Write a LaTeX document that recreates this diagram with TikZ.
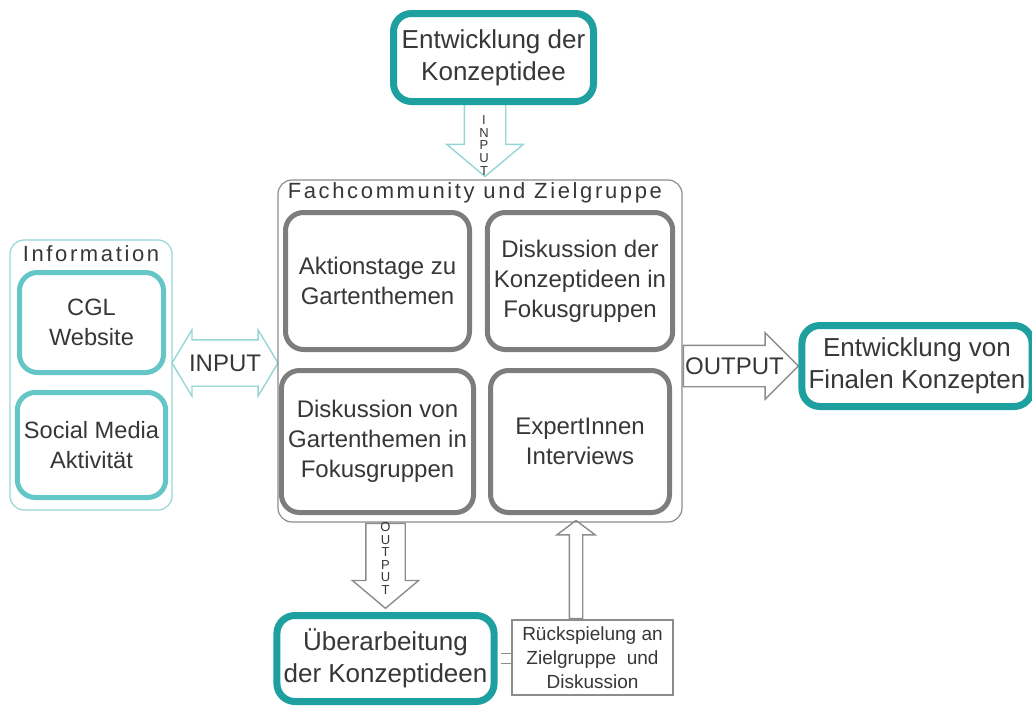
\documentclass[tikz,border=0pt]{standalone}
\usepackage{fontspec}
\setmainfont{Liberation Sans}
\usetikzlibrary{shapes.arrows,calc,backgrounds}

\definecolor{tealdark}{RGB}{30,160,160}
\definecolor{teallight}{RGB}{100,198,198}
\definecolor{tealpale}{RGB}{150,214,214}
\definecolor{boxgray}{RGB}{125,125,125}
\definecolor{linegray}{RGB}{140,140,140}
\definecolor{txtgray}{RGB}{55,55,55}

\tikzset{
  phase/.style={draw=tealdark, line width=3.5pt, rounded corners=9pt, fill=white,
    align=center, text=txtgray, font=\fontsize{13}{16}\selectfont},
  channel/.style={draw=teallight, line width=2.5pt, rounded corners=9pt, fill=white,
    align=center, text=txtgray, font=\fontsize{11.8}{15}\selectfont, minimum width=72pt},
  activity/.style={draw=boxgray, line width=2.5pt, rounded corners=9pt, fill=white,
    align=center, text=txtgray, font=\fontsize{12}{15}\selectfont},
  group/.style={rounded corners=7pt, line width=0.6pt},
  grouptitle/.style={font=\fontsize{11}{13}\selectfont\addfontfeature{LetterSpace=12},
    text=txtgray, inner sep=0pt},
  blockarrow/.style={single arrow, fill=white, line width=0.7pt},
  vlabel/.style={font=\fontsize{6.5}{6.3}\selectfont, align=center, inner sep=0pt, text=txtgray},
  hlabel/.style={font=\fontsize{12}{14}\selectfont, inner sep=0pt, text=txtgray},
}

\begin{document}
\begin{tikzpicture}[x=0.5pt, y=-0.5pt]
  \useasboundingbox (0,0) rectangle (1032,712);

  % groups
  \node[group, draw=linegray, minimum width=202pt, minimum height=171pt] (community) at (480,351) {};
  \node[grouptitle, anchor=west] (communityTitle) at ($(community.north west)+(10,13)$) {Fachcommunity und Zielgruppe};
  \node[group, draw=tealpale, minimum width=81pt, minimum height=135pt] (info) at (91,375) {};
  \node[grouptitle] (infoTitle) at ($(info.north)+(0,14)$) {Information};

  % phases
  \node[phase, minimum width=100pt, minimum height=44pt] (ideaTop) at (493.5,57.5) {Entwicklung der\\Konzeptidee};
  \node[phase, minimum width=107.5pt, minimum height=40.5pt] (final) at (917,366) {Entwicklung von\\Finalen Konzepten};
  \node[phase, minimum width=101pt, minimum height=43pt] (rework) at (385.5,658.5) {Überarbeitung\\der Konzeptideen};

  % information channels
  \node[channel, minimum height=50pt] (cgl) at (91.5,322.5) {CGL\\Website};
  \node[channel, minimum height=52.5pt] (social) at (91.5,445) {Social Media\\Aktivität};

  % activities
  \node[activity, minimum width=92pt, minimum height=68.5pt] (aktion) at (377.5,281) {Aktionstage zu\\Gartenthemen};
  \node[activity, minimum width=89.5pt, minimum height=68.5pt] (fokusKonzept) at (580,281) {Diskussion der\\Konzeptideen in\\Fokusgruppen};
  \node[activity, minimum width=92pt, minimum height=71pt] (fokusGarten) at (377.5,441.5) {Diskussion von\\Gartenthemen in\\Fokusgruppen};
  \node[activity, minimum width=89.5pt, minimum height=71pt] (experten) at (580,441.5) {ExpertInnen\\Interviews};

  \node[draw=linegray, line width=0.7pt, fill=white, minimum width=80.5pt, minimum height=37.5pt,
    align=center, text=txtgray, font=\fontsize{9.5}{12}\selectfont] (feedback) at (592.5,657.5)
    {Rückspielung an\\Zielgruppe\ \ und\\Diskussion};

  % arrows
  \begin{pgfonlayer}{background}
    \node[blockarrow, draw=tealpale, anchor=tip, shape border rotate=270, minimum height=37pt,
      inner sep=10pt, single arrow head extend=8.75pt, single arrow tip angle=100] (inTop)
      at ($(community.north)+(5,-2)$) {};
    \node[double arrow, draw=tealpale, fill=white, line width=0.7pt, inner sep=11.25pt,
      minimum height=53pt, double arrow head extend=5pt,
      double arrow tip angle=118] (inLeft) at ($(info.east)!0.5!(community.west)$) {};
    \node[blockarrow, draw=linegray, anchor=tail, minimum height=57.5pt, inner sep=10pt,
      single arrow head extend=6.25pt, single arrow tip angle=90] (outRight)
      at (community.east |- final.west) {};
    \node[blockarrow, draw=linegray, anchor=tail, shape border rotate=270, minimum height=42.5pt,
      inner sep=9.5pt, single arrow head extend=6.75pt, single arrow tip angle=100] (outDown)
      at (community.south -| rework.north) {};
    \node[blockarrow, draw=linegray, anchor=tail, shape border rotate=90, minimum height=49pt,
      inner sep=3pt, single arrow head extend=6.25pt, single arrow tip angle=106] (upBack)
      at ($(feedback.north)+(-16.5,0)$) {};
  \end{pgfonlayer}
  \draw[draw=linegray, line width=0.6pt, double=white, double distance=4.5pt, shorten <=1.75pt]
    (rework.east) -- (rework.east -| feedback.west);

  % arrow labels
  \node[vlabel] (inTopLabel) at ($(inTop.tip)+(-1,-32)$) {I\\N\\P\\U\\T};
  \node[hlabel] (inLeftLabel) at (inLeft) {INPUT};
  \node[hlabel] (outRightLabel) at ($(outRight)+(4,0)$) {OUTPUT};
  \node[vlabel] (outDownLabel) at ($(outDown)+(0,1)$) {O\\U\\T\\P\\U\\T};
\end{tikzpicture}
\end{document}
